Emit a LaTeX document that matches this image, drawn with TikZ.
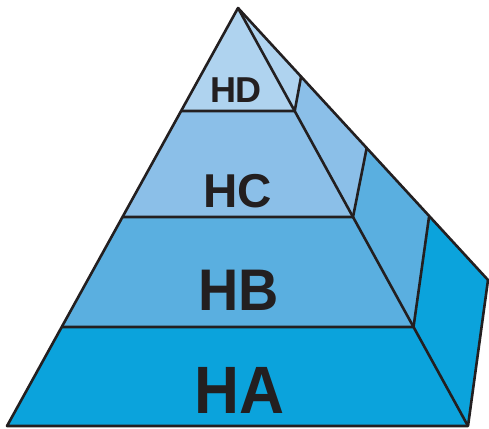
\documentclass[tikz,border=0pt]{standalone}
\usepackage{fontspec}
\setmainfont{Liberation Sans}
\usepackage{tikz}
\definecolor{lineC}{HTML}{231F20}
\definecolor{levD}{HTML}{AFD3EF}
\definecolor{levC}{HTML}{8BBFE8}
\definecolor{levB}{HTML}{5AAFE0}
\definecolor{levA}{HTML}{0BA3DC}

\begin{document}
\begin{tikzpicture}[x=1pt,y=-1pt, edge/.style={line width=2.6pt,draw=lineC,line join=round}, lbl/.style={anchor=base,text=lineC,inner sep=0pt}]
\useasboundingbox (0,0) rectangle (489,428);
% corners
\coordinate (top) at (238,8);
\coordinate (l1) at (181,111);   \coordinate (r1) at (294.7,111); \coordinate (b1) at (301,77);
\coordinate (l2) at (122.5,217); \coordinate (r2) at (353,217);   \coordinate (b2) at (366.7,148);
\coordinate (l3) at (62,327);    \coordinate (r3) at (413.5,327); \coordinate (b3) at (429,217);
\coordinate (l4) at (7,426);     \coordinate (r4) at (468,426);   \coordinate (b4) at (488,280);
% levels
\fill[levD] (top) -- (r1) -- (l1) -- cycle;
\fill[levD] (top) -- (b1) -- (r1) -- cycle;
\fill[levC] (l1) -- (r1) -- (r2) -- (l2) -- cycle;
\fill[levC] (r1) -- (b1) -- (b2) -- (r2) -- cycle;
\fill[levB] (l2) -- (r2) -- (r3) -- (l3) -- cycle;
\fill[levB] (r2) -- (b2) -- (b3) -- (r3) -- cycle;
\fill[levA] (l3) -- (r3) -- (r4) -- (l4) -- cycle;
\fill[levA] (r3) -- (b3) -- (b4) -- (r4) -- cycle;
% outline
\draw[edge] (top) -- (l4) -- (r4) -- (b4) -- cycle;
\draw[edge] (top) -- (r4);
\draw[edge] (l1) -- (r1) -- (b1);
\draw[edge] (l2) -- (r2) -- (b2);
\draw[edge] (l3) -- (r3) -- (b3);
% labels
\node[lbl,font=\bfseries\fontsize{36}{36}\selectfont] (hd) at (236,102) {HD};
\node[lbl,font=\bfseries\fontsize{47.5}{48}\selectfont] (hc) at (238,207) {HC};
\node[lbl,font=\bfseries\fontsize{58.7}{59}\selectfont,xscale=0.95] (hb) at (238.5,310) {HB};
\node[lbl,font=\bfseries\fontsize{67}{67}\selectfont,xscale=0.93] (ha) at (239.5,413) {HA};
\end{tikzpicture}
\end{document}
